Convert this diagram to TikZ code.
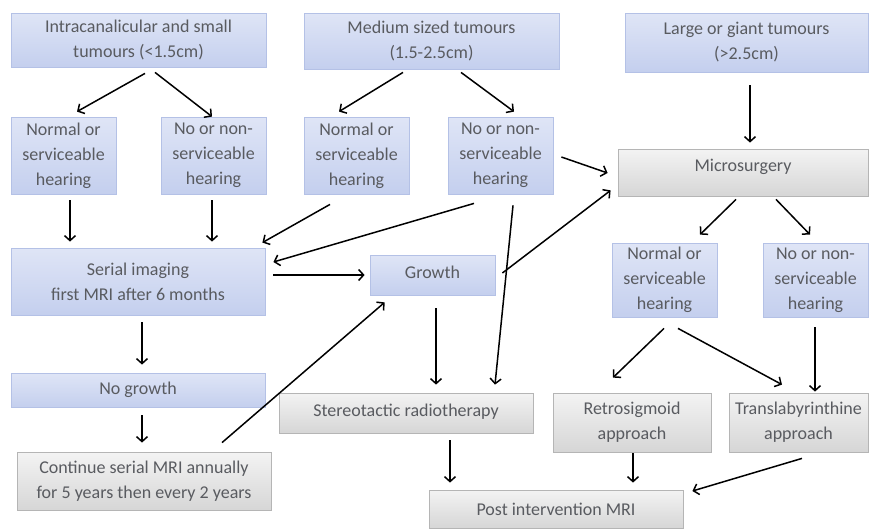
\documentclass[tikz,border=0pt]{standalone}
\usepackage{fontspec}
\setmainfont{Carlito}
\usetikzlibrary{calc,arrows.meta}
\definecolor{bluetop}{HTML}{DFE5F6}
\definecolor{bluebot}{HTML}{C4CFEE}
\definecolor{blueline}{HTML}{B4C1E6}
\definecolor{graytop}{HTML}{F3F3F3}
\definecolor{graybot}{HTML}{D6D6D6}
\definecolor{grayline}{HTML}{B5B5B5}
\definecolor{txtgray}{HTML}{595B60}
\tikzset{
  box/.style={draw, line width=0.8pt, align=center, inner sep=0pt, text=txtgray,
    font=\fontsize{18}{25}\selectfont},
  bluebox/.style={box, draw=blueline, top color=bluetop, bottom color=bluebot},
  graybox/.style={box, draw=grayline, top color=graytop, bottom color=graybot},
  arr/.style={line width=1.5pt, -{Straight Barb[length=5pt,width=11pt,line width=1.5pt]}},
  ln/.style={line width=1.5pt}
}
\begin{document}
\begin{tikzpicture}[x=1pt,y=-1pt]
\useasboundingbox[fill=white] (0,0) rectangle (869,528);
% nodes
\node[bluebox, minimum width=255pt, minimum height=54pt] (intra) at (138.5,40) {Intracanalicular and small\\tumours (<1.5cm)};
\node[bluebox, minimum width=105pt, minimum height=77pt] (n1) at (63.5,155.5) {Normal or\\serviceable\\hearing};
\node[bluebox, minimum width=105pt, minimum height=77pt] (nn1) at (213.5,155.5) {No or non-\\serviceable\\hearing};
\node[bluebox, minimum width=255pt, minimum height=56pt] (med) at (431.5,41) {Medium sized tumours\\(1.5-2.5cm)};
\node[bluebox, minimum width=105pt, minimum height=77pt] (n2) at (356.5,155.5) {Normal or\\serviceable\\hearing};
\node[bluebox, minimum width=105pt, minimum height=77pt] (nn2) at (500.5,155.5) {No or non-\\serviceable\\hearing};
\node[bluebox, minimum width=243pt, minimum height=59pt] (large) at (746.5,42.5) {Large or giant tumours\\(>2.5cm)};
\node[graybox, minimum width=250pt, minimum height=47pt, text depth=14pt] (micro) at (743,172.5) {Microsurgery};
\node[bluebox, minimum width=254pt, minimum height=67pt] (serial) at (138,281.5) {Serial imaging\\first MRI after 6 months};
\node[bluebox, minimum width=254pt, minimum height=34pt] (nogrowth) at (138,390) {No growth};
\node[graybox, minimum width=254pt, minimum height=58pt] (cont) at (144,481) {Continue serial MRI annually\\for 5 years then every 2 years};
\node[bluebox, minimum width=125pt, minimum height=40pt, text depth=6pt] (growth) at (432.5,275) {Growth};
\node[graybox, minimum width=254pt, minimum height=40pt, text depth=6pt] (stereo) at (406,413) {Stereotactic radiotherapy};
\node[graybox, minimum width=254pt, minimum height=38pt] (post) at (556,509) {Post intervention MRI};
\node[bluebox, minimum width=105pt, minimum height=74pt] (n3) at (664.5,280) {Normal or\\serviceable\\hearing};
\node[bluebox, minimum width=105pt, minimum height=74pt] (nn3) at (815.5,280) {No or non-\\serviceable\\hearing};
\node[graybox, minimum width=158pt, minimum height=59pt] (retro) at (632,422.5) {Retrosigmoid\\approach};
\node[graybox, minimum width=139pt, minimum height=59pt] (trans) at (798.5,422.5) {Translabyrinthine\\approach};
% connectors
\draw[arr] ($(intra.south)+(6.5,6)$) -- ($(n1.north)+(13.5,-5)$);
\draw[arr] ($(intra.south)+(16.5,5)$) -- ($(nn1.north)+(-1.5,0)$);
\draw[arr] ($(n1.south)+(6.5,6)$) -- ($(serial.north)+(-68,-6)$);
\draw[arr] ($(nn1.south)+(-1.5,6)$) -- ($(serial.north)+(74,-6)$);
\draw[arr] ($(med.south)+(-28.5,3)$) -- ($(n2.north)+(-17.5,-5)$);
\draw[arr] ($(med.south)+(29.5,3)$) -- ($(nn2.north)+(13.5,-5)$);
\draw[arr] ($(nn2.east)+(8,1.5)$) -- ($(micro.west)+(-10,0.5)$);
\draw[arr] ($(large.south)+(3.5,13)$) -- ($(micro.north)+(7,-6)$);
\draw[arr] ($(n2.south)+(-26.5,10)$) -- ($(serial.north east)+(-3,-5)$);
\draw[arr] ($(nn2.south)+(-26.5,9)$) -- ($(serial.east)+(8,-19.5)$);
\draw[arr] ($(serial.east)+(8,-6.5)$) -- ($(growth.west)+(-5,0)$);
\draw[arr] ($(growth.east)+(7,-2)$) -- ($(micro.south west)+(-7,-6)$);
\draw[arr] ($(nn2.south)+(12.5,11)$) -- ($(stereo.north)+(89,-8)$);
\draw[arr] ($(growth.south)+(3.5,13)$) -- ($(stereo.north)+(30,-8)$);
\draw[arr] ($(cont.north)+(78,-9)$) -- ($(growth.south west)+(15,7)$);
\draw[arr] ($(serial.south)+(4,7)$) -- ($(nogrowth.north)+(4,-8)$);
\draw[arr] ($(nogrowth.south)+(4,8)$) -- ($(cont.north)+(-2,-9)$);
\draw[arr] ($(stereo.south)+(44,7)$) -- ($(post.north)+(-106,-7)$);
\draw[arr] ($(micro.south)+(-7,3)$) -- ($(n3.north)+(35.5,-8)$);
\draw[arr] ($(micro.south)+(33,3)$) -- ($(nn3.north)+(-5.5,-8)$);
\draw[arr] ($(n3.south)+(-0.5,11)$) -- ($(retro.north)+(-19,-15)$);
\draw[arr] ($(n3.south)+(13.5,11)$) -- ($(trans.north)+(-16.5,-8)$);
\draw[arr] ($(nn3.south)+(-0.5,10)$) -- ($(trans.north)+(16.5,-1)$);
\draw[arr] ($(retro.south)+(1,1)$) -- ($(post.north)+(77,-7)$);
\draw[arr] ($(trans.south)+(3.5,6)$) -- ($(post.east)+(9,-18)$);
\end{tikzpicture}
\end{document}
